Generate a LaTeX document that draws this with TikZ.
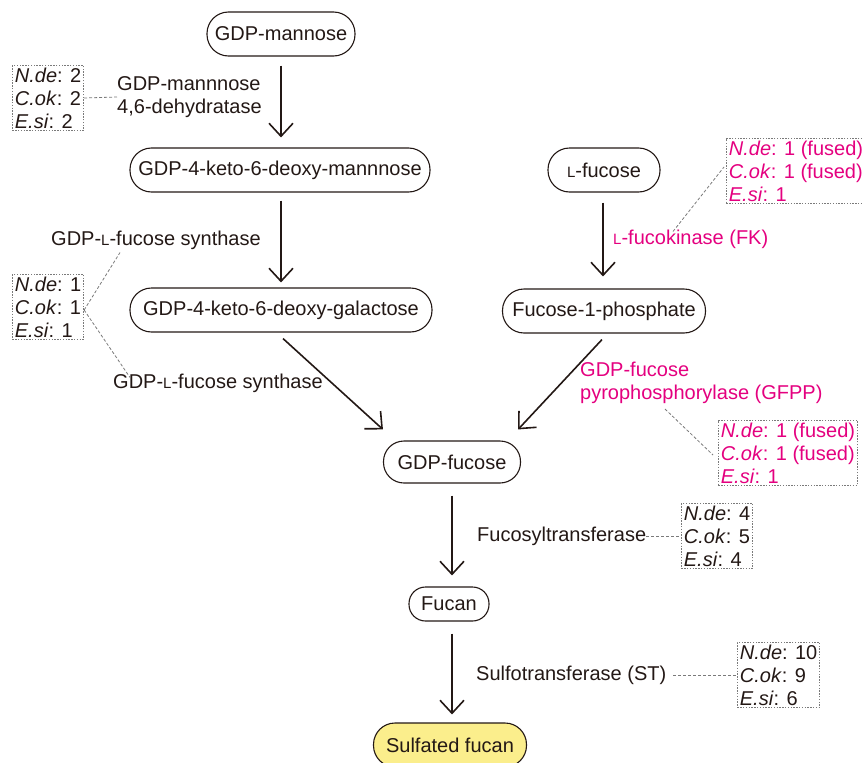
\documentclass[tikz,border=0pt]{standalone}
\usepackage{fontspec}
\setmainfont{Liberation Sans}
\usetikzlibrary{arrows.meta,calc}
\definecolor{ink}{HTML}{231815}
\definecolor{pinkc}{HTML}{E4007F}
\definecolor{yel}{HTML}{FBEE8C}
\definecolor{dotgray}{HTML}{7A7A7A}
\newcommand{\Lsc}{{\fontsize{15pt}{15pt}\selectfont L}}
\begin{document}
\begin{tikzpicture}[x=1pt,y=1pt,
  every node/.style={font=\fontsize{20pt}{23pt}\selectfont, text=ink},
  stage/.style={draw=ink, line width=1.1pt, inner sep=0pt, minimum height=44pt, rounded corners=21.5pt},
  lab/.style={align=left, inner sep=0pt},
  cnt/.style={draw=dotgray, line width=0.8pt, dash pattern=on 1.4pt off 1.4pt, align=left, inner xsep=2.5pt, inner ysep=2pt},
  lead/.style={draw=dotgray, line width=0.8pt, dash pattern=on 3pt off 2pt},
  flow/.style={draw=ink, line width=1.6pt, -{Straight Barb[length=13pt,width=24pt,line width=1.6pt]}}]
\useasboundingbox (0,0) rectangle (863,-763);

% main nodes
\node[stage, minimum width=148pt] (gm) at (281,-34) {GDP-mannose};
\node[stage, minimum width=300pt] (gkm) at (280,-170) {GDP-4-keto-6-deoxy-mannnose};
\node[stage, minimum width=302pt] (gkg) at (281,-310) {GDP-4-keto-6-deoxy-galactose};
\node[stage, minimum width=112pt] (lf) at (604,-170) {\Lsc-fucose};
\node[stage, minimum width=203pt] (f1p) at (604,-311) {Fucose-1-phosphate};
\node[stage, minimum width=137pt, minimum height=42pt, rounded corners=20.5pt] (gf) at (452,-462) {GDP-fucose};
\node[stage, minimum width=80pt, minimum height=34pt, rounded corners=16.5pt] (fucan) at (449,-604) {Fucan};
\node[stage, minimum width=153pt, minimum height=44pt, fill=yel] (sf) at (450,-745) {Sulfated fucan};

% arrows
\draw[flow] ($(gm.south)+(0,-9)$) -- ($(gkm.north)+(1,10)$);
\draw[flow] ($(gkm.south)+(1,-8)$) -- ($(gkg.north)+(0,5)$);
\draw[flow] ($(lf.south)+(-1,-10)$) -- ($(f1p.north)+(-1,12)$);
\draw[flow] ($(gkg.south)+(2,-6)$) -- ($(gf.north west)+(0,11)$);
\draw[flow] ($(f1p.south)+(-2,-6)$) -- ($(gf.north east)+(-3,11)$);
\draw[flow] ($(gf.south)+(0,-12)$) -- ($(fucan.north)+(3,11)$);
\draw[flow] ($(fucan.south)+(3,-12)$) -- ($(sf.north)+(2,8)$);

% enzyme labels
\node[lab, anchor=west] (e1) at (117,-97) {GDP-mannnose\\4,6-dehydratase};
\node[lab] (syn1) at (156,-240) {GDP-\Lsc-fucose synthase};
\node[lab] (syn2) at (218,-383) {GDP-\Lsc-fucose synthase};
\node[lab, anchor=west, text=pinkc] (fk) at (613,-239) {\Lsc-fucokinase (FK)};
\node[lab, anchor=west, text=pinkc] (gfpp) at (580,-383) {GDP-fucose\\pyrophosphorylase (GFPP)};
\node[lab, anchor=west] (fuct) at (477,-536) {Fucosyltransferase};
\node[lab, anchor=west] (sult) at (476,-675) {Sulfotransferase (ST)};

% count boxes
\node[cnt, anchor=west] (b1) at (12,-98) {\textit{N.de}: 2\\\textit{C.ok}: 2\\\textit{E.si}: 2};
\node[cnt, anchor=west] (b2) at (12,-307) {\textit{N.de}: 1\\\textit{C.ok}: 1\\\textit{E.si}: 1};
\node[cnt, anchor=west, text=pinkc] (b3) at (726,-171) {\textit{N.de}: 1 (fused)\\\textit{C.ok}: 1 (fused)\\\textit{E.si}: 1};
\node[cnt, anchor=west, text=pinkc] (b4) at (718,-453) {\textit{N.de}: 1 (fused)\\\textit{C.ok}: 1 (fused)\\\textit{E.si}: 1};
\node[cnt, anchor=west] (b5) at (681,-536) {\textit{N.de}: 4\\\textit{C.ok}: 5\\\textit{E.si}: 4};
\node[cnt, anchor=west] (b6) at (737,-675) {\textit{N.de}: 10\\\textit{C.ok}: 9\\\textit{E.si}: 6};

% leader lines
\draw[lead] (b1.east) -- (e1.west);
\draw[lead] ($(b2.east)+(0,-3)$) -- ($(syn1.south)+(-36,-3)$);
\draw[lead] ($(b2.east)+(0,-3)$) -- ($(syn2.north)+(-88,-4)$);
\draw[lead] ($(fk.north west)+(60,-2)$) -- ($(b3.west)+(-2,4)$);
\draw[lead] ($(gfpp.south west)+(85,-5)$) -- ($(b4.west)+(-5,-2)$);
\draw[lead] (fuct.east) -- (b5.west);
\draw[lead] ($(sult.east)+(7,0)$) -- (b6.west);
\end{tikzpicture}
\end{document}
